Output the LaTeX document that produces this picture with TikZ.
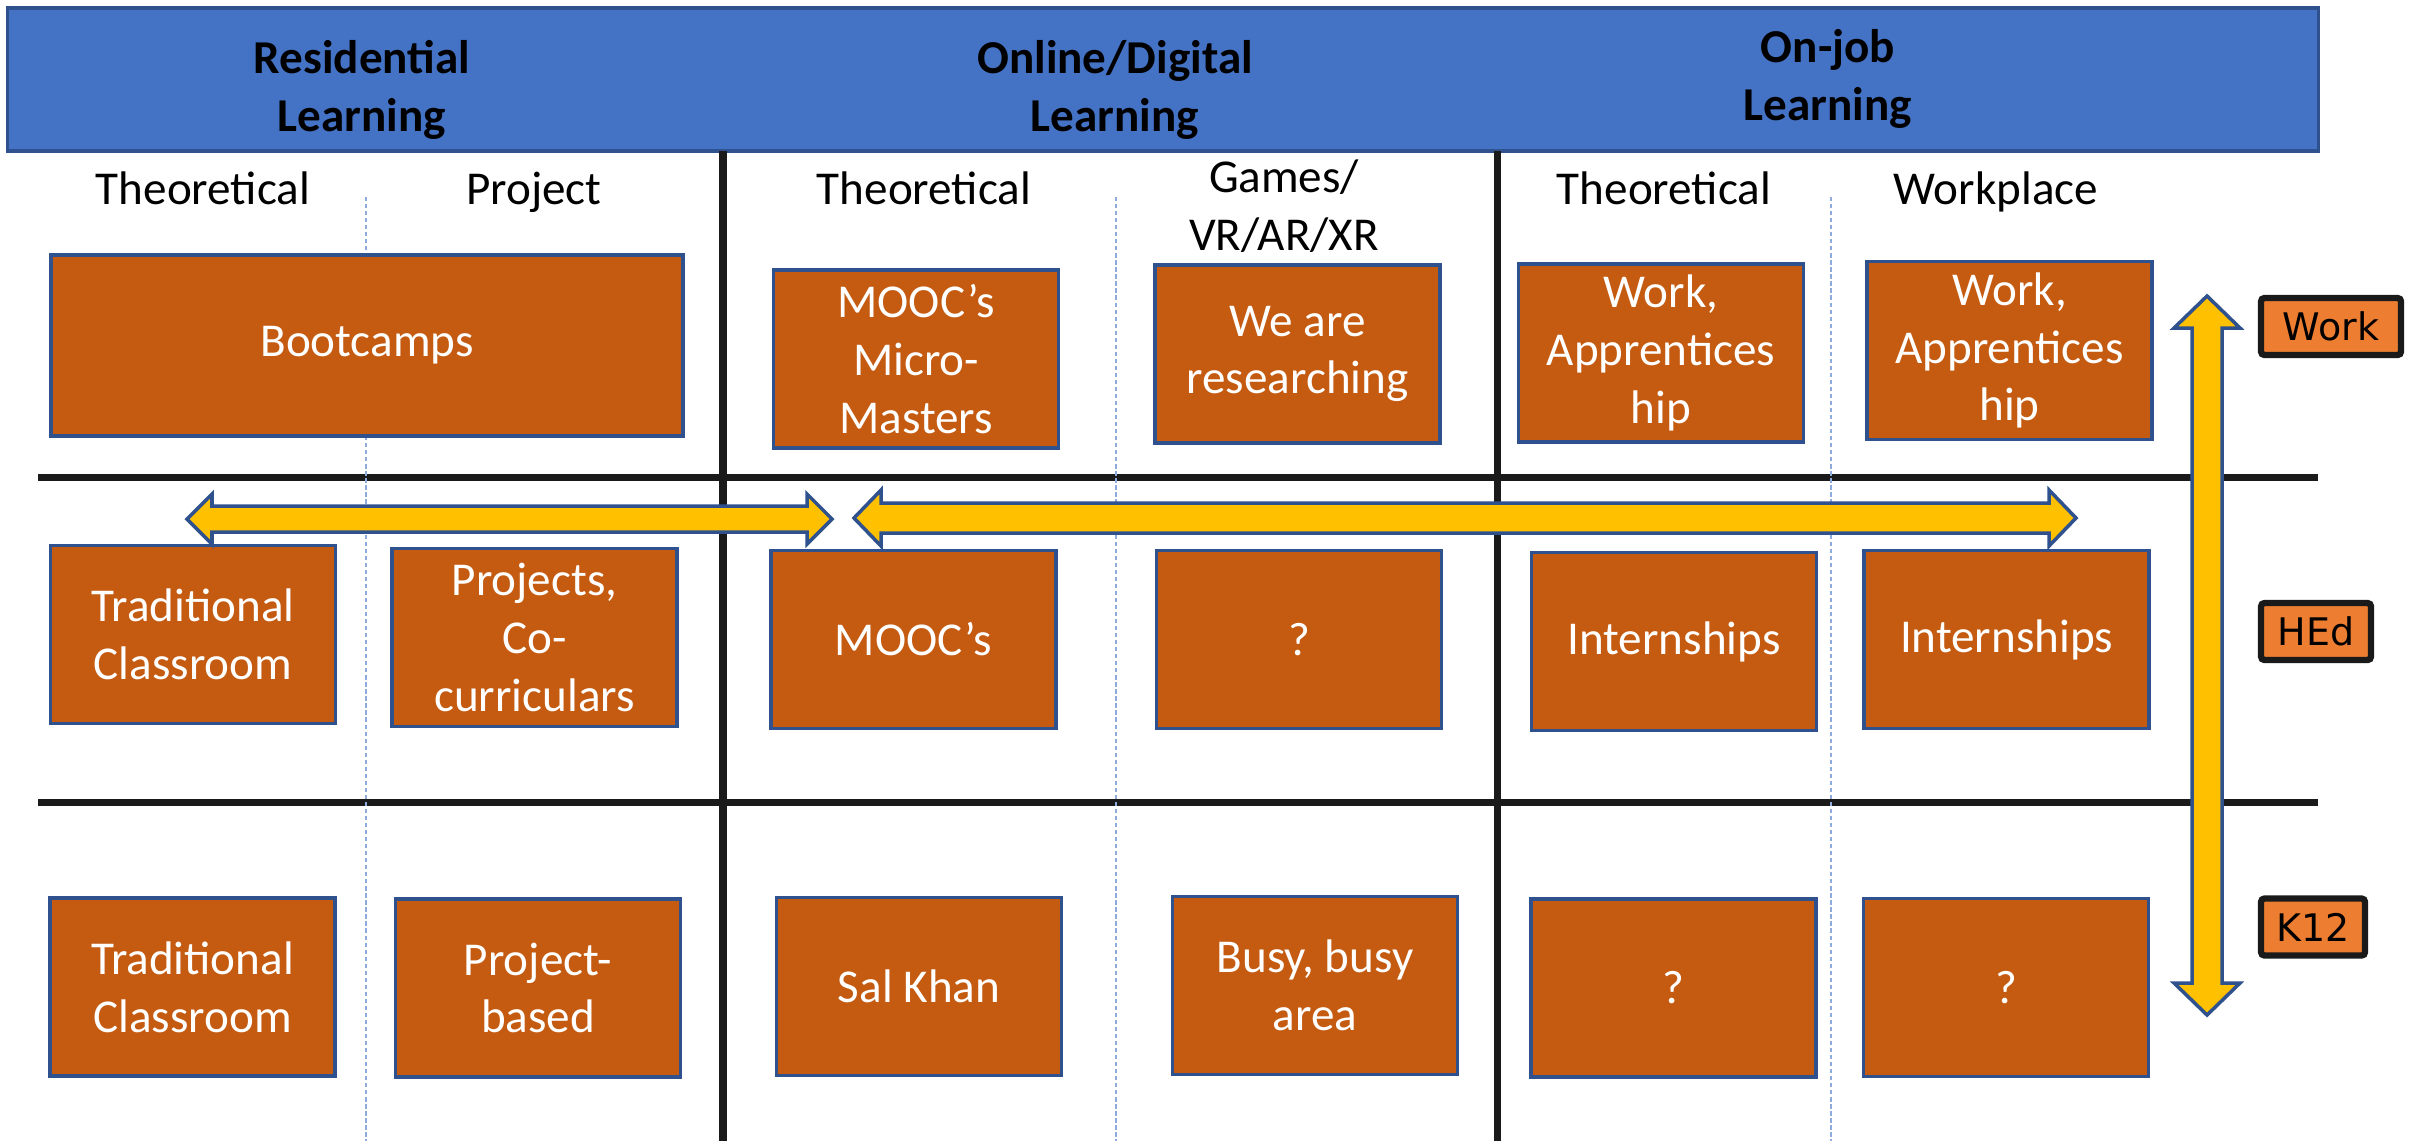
\documentclass[tikz,border=0pt]{standalone}
\usepackage{fontspec}
\setmainfont{Carlito}
\newfontfamily\tierfont{DejaVu Sans}
\definecolor{hdrblue}{HTML}{4472C4}
\definecolor{edgeblue}{HTML}{2F528F}
\definecolor{cellfill}{HTML}{C55A11}
\definecolor{arrowfill}{HTML}{FFC000}
\definecolor{tierfill}{HTML}{ED7D31}
\definecolor{ruleblack}{HTML}{1A1A1A}
\definecolor{dashblue}{HTML}{8FAADC}

\begin{document}
\begin{tikzpicture}[x=0.01cm, y=0.01cm,
    txt/.style={font=\fontsize{13.4}{16.4}\selectfont, align=center, inner sep=0pt},
    headtxt/.style={font=\fontsize{13.4}{16.4}\selectfont\bfseries, align=center, inner sep=0pt},
    learnbox/.style={txt, draw=edgeblue, line width=1pt, fill=cellfill, text=white,
        minimum width=2.85cm, minimum height=1.78cm},
    tier/.style={draw=ruleblack, line width=1.8pt, fill=tierfill, rounded corners=1pt,
        font=\tierfont\fontsize{10.8}{13}\selectfont, inner sep=0pt, minimum height=0.57cm},
    gridrule/.style={draw=ruleblack, line width=2pt},
    subrule/.style={draw=dashblue, line width=0.6pt, dash pattern=on 1.2pt off 0.8pt},
    blockarrow/.style={draw=edgeblue, line width=1pt, fill=arrowfill, line join=miter}]
    \useasboundingbox (0,0) rectangle (2413,-1141);

    % Header band
    \node[draw=edgeblue, line width=1pt, fill=hdrblue, minimum width=23.1cm, minimum height=1.43cm] (header) at (1163,-79.5) {};
    \node[headtxt] (resid) at (362,-90) {Residential\\Learning};
    \node[headtxt] (online) at (1115,-90) {Online/Digital\\Learning};
    \node[headtxt] (onjob) at (1828,-79) {On-job\\Learning};

    % Grid lines
    \draw[gridrule] (723,-151) -- (723,-1141);
    \draw[gridrule] (1497,-151) -- (1497,-1141);
    \draw[gridrule] (38,-477) -- (2318,-477);
    \draw[gridrule] (38,-802) -- (2318,-802);
    \foreach \x in {366,1116,1831}
        \draw[subrule] (\x,-197) -- (\x,-1141);

    % Column headings
    \node[txt, anchor=base] (resth) at (203,-204) {Theoretical};
    \node[txt, anchor=base] (resproj) at (534,-204) {Project};
    \node[txt, anchor=base] (onlth) at (924,-204) {Theoretical};
    \node[txt] (onlgame) at (1284,-206) {Games/\\VR/AR/XR};
    \node[txt, anchor=base] (jobth) at (1664,-204) {Theoretical};
    \node[txt, anchor=base] (jobwork) at (1996,-204) {Workplace};

    % Work row
    \node[learnbox, minimum width=6.32cm, minimum height=1.81cm] (boot) at (367,-345.5) {Bootcamps};
    \node[learnbox] (mooca) at (916,-359) {MOOC’s\\Micro-\\Masters};
    \node[learnbox] (research) at (1297.5,-354) {We are\\researching};
    \node[learnbox] (appra) at (1661,-353) {Work,\\Apprentices\\hip};
    \node[learnbox] (apprb) at (2009.5,-350.5) {Work,\\Apprentices\\hip};

    % HEd row
    \node[learnbox] (tradb) at (193,-634.5) {Traditional\\Classroom};
    \node[learnbox] (projb) at (534.5,-637.5) {Projects,\\Co-\\curriculars};
    \node[learnbox] (moocb) at (913.5,-639.5) {MOOC’s};
    \node[learnbox] (gameb) at (1299,-639.5) {?};
    \node[learnbox] (interna) at (1674,-641.5) {Internships};
    \node[learnbox] (internb) at (2006.5,-639.5) {Internships};

    % K12 row
    \node[learnbox] (tradc) at (192.5,-987) {Traditional\\Classroom};
    \node[learnbox] (projc) at (538,-988) {Project-\\based};
    \node[learnbox] (salkhan) at (919,-986.5) {Sal Khan};
    \node[learnbox] (busy) at (1315,-985.5) {Busy, busy\\area};
    \node[learnbox] (jobc) at (1673.5,-988) {?};
    \node[learnbox] (workc) at (2006,-987.5) {?};

    % Block arrows
    \draw[blockarrow] (187,-519) -- (212,-494) -- (212,-506) -- (807,-506) -- (807,-494) -- (832,-519)
        -- (807,-544) -- (807,-532) -- (212,-532) -- (212,-544) -- cycle;
    \draw[blockarrow] (854,-518) -- (881,-490) -- (881,-503) -- (2049,-503) -- (2049,-490) -- (2076,-518)
        -- (2049,-546) -- (2049,-533) -- (881,-533) -- (881,-546) -- cycle;
    \draw[blockarrow] (2207,-296) -- (2240,-328) -- (2222,-328) -- (2222,-983) -- (2240,-983) -- (2207,-1015)
        -- (2174,-983) -- (2192,-983) -- (2192,-328) -- (2174,-328) -- cycle;

    % Level labels
    \node[tier, minimum width=1.40cm] (work) at (2331,-326.5) {Work};
    \node[tier, minimum width=1.10cm] (hed) at (2316,-631.5) {HEd};
    \node[tier, minimum width=1.04cm] (ktwelve) at (2313,-927) {K12};
\end{tikzpicture}
\end{document}
